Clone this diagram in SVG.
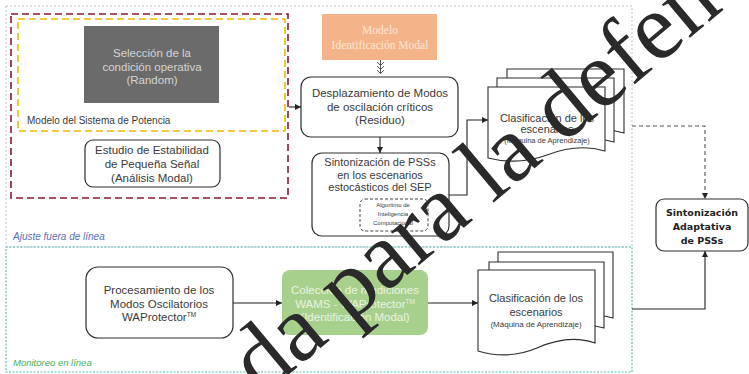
<svg xmlns="http://www.w3.org/2000/svg" width="749" height="374" viewBox="0 0 749 374">
<style>
.t{font-family:"Liberation Sans",Arial,sans-serif;font-size:11.5px;fill:#3a3a3a;text-anchor:middle}
.s{font-size:8px}
.xs{font-size:6px}
.box{fill:#fff;stroke:#2e2e2e;stroke-width:1.2}
.doc{fill:#fff;stroke:#2e2e2e;stroke-width:1.1}
.cn{fill:none;stroke:#222;stroke-width:1.1}
.lbl{font-family:"Liberation Sans",Arial,sans-serif;font-style:italic;font-size:10px}
.b{font-family:"DejaVu Sans",Verdana,sans-serif;font-weight:bold;font-size:9.5px;fill:#222;text-anchor:middle}
</style>
<defs>
<marker id="ah" markerWidth="6" markerHeight="6" refX="6" refY="3" orient="auto" markerUnits="userSpaceOnUse">
<path d="M0,0 L6,3 L0,6 z" fill="#222"/>
</marker>
</defs>
<rect width="749" height="374" fill="#fff"/>

<g id="containers">
<rect x="6" y="6" width="626" height="241" fill="none" stroke="#b9c3d3" stroke-width="1" stroke-dasharray="2,2"/>
<text class="lbl" x="13" y="240" fill="#5a6fb8">Ajuste fuera de línea</text>
<rect x="6" y="247" width="626" height="125" fill="none" stroke="#5dbdb0" stroke-width="1.2" stroke-dasharray="2,1.5"/>
<text class="lbl" x="13" y="366" fill="#3fae5a" style="font-size:9.5px">Monitoreo en línea</text>
<rect x="11" y="14" width="277" height="184" fill="none" stroke="#8b1a2e" stroke-width="1.6" stroke-dasharray="7,4"/>
<rect x="18" y="19" width="267" height="112" fill="none" stroke="#f2b705" stroke-width="1.6" stroke-dasharray="7,4"/>
<text class="t" x="27" y="124" style="text-anchor:start;font-size:10px">Modelo del Sistema de Potencia</text>
</g>

<g id="seleccion">
<rect x="84" y="26" width="135" height="77" fill="#6b6b6b"/>
<text class="t" x="152" y="57" style="fill:#d4d4d4">Selección de la</text>
<text class="t" x="152" y="70.5" style="fill:#d4d4d4">condición operativa</text>
<text class="t" x="152" y="84" style="fill:#d4d4d4">(Random)</text>
</g>

<g id="estudio">
<rect class="box" x="85" y="140" width="135" height="47" rx="8"/>
<text class="t" x="152" y="154">Estudio de Estabilidad</text>
<text class="t" x="152" y="168">de Pequeña Señal</text>
<text class="t" x="152" y="182">(Análisis Modal)</text>
</g>

<g id="modelo-ident">
<rect x="322" y="14" width="115" height="46" fill="#f5b38a"/>
<text class="t" x="380" y="34" style="font-family:'Liberation Serif','Times New Roman',serif;fill:#fde6d6">Modelo</text>
<text class="t" x="380" y="49" style="font-family:'Liberation Serif','Times New Roman',serif;fill:#fde6d6">Identificación Modal</text>
</g>

<g id="desplazamiento">
<rect class="box" x="301" y="77" width="157" height="60" rx="10"/>
<text class="t" x="380" y="97">Desplazamiento de Modos</text>
<text class="t" x="380" y="111">de oscilación críticos</text>
<text class="t" x="380" y="124">(Residuo)</text>
</g>

<g id="sintonizacion">
<rect class="box" x="312" y="153" width="137" height="83" rx="10"/>
<text class="t" x="380" y="166" style="font-size:11px">Sintonización de PSSs</text>
<text class="t" x="380" y="178.5" style="font-size:11px">en los escenarios</text>
<text class="t" x="380" y="191" style="font-size:11px">estocásticos del SEP</text>
</g>

<g id="algoritmo">
<rect x="360" y="199" width="68" height="32" rx="5" fill="#fff" stroke="#444" stroke-width="1" stroke-dasharray="3,2"/>
<text class="t xs" x="393" y="207">Algoritmo de</text>
<text class="t xs" x="393" y="216">Inteligencia</text>
<text class="t xs" x="393" y="225">Computacional</text>
</g>

<g id="clasificacion-1">
<path class="doc" d="M507,69 H624 V133 C604,127 584,130 566,137 C547,144 527,145 507,140 Z"/>
<path class="doc" d="M497,78 H614 V142 C594,136 574,139 556,146 C537,153 517,154 497,149 Z"/>
<path class="doc" d="M488,87 H605 V151 C585,145 565,148 547,155 C528,162 508,163 488,158 Z"/>
<text class="t" x="547" y="122" style="font-size:11px">Clasificación de los</text>
<text class="t" x="547" y="133" style="font-size:11px">escenarios</text>
<text class="t s" x="547" y="143" style="font-size:7.5px">(Máquina de Aprendizaje)</text>
</g>

<g id="adaptativa">
<rect class="box" x="656" y="199" width="92" height="52" rx="8"/>
<text class="b" x="702" y="216">Sintonización</text>
<text class="b" x="702" y="230">Adaptativa</text>
<text class="b" x="702" y="243.5">de PSSs</text>
</g>

<g id="procesamiento">
<rect class="box" x="86" y="267" width="147" height="71" rx="12"/>
<text class="t" x="159" y="294">Procesamiento de los</text>
<text class="t" x="159" y="307.5">Modos Oscilatorios</text>
<text class="t" x="159" y="321">WAProtector<tspan style="font-size:6.5px" dy="-4">TM</tspan></text>
</g>

<g id="coleccion">
<rect x="282" y="270" width="146" height="65" rx="8" fill="#a8d08d"/>
<text class="t" x="355" y="294" style="fill:#e8f3e0">Colección de mediciones</text>
<text class="t" x="355" y="307.5" style="fill:#e8f3e0">WAMS - WAProtector<tspan style="font-size:6.5px" dy="-4">TM</tspan></text>
<text class="t" x="355" y="321" style="fill:#e8f3e0">(Identificación Modal)</text>
</g>

<g id="clasificacion-2">
<path class="doc" d="M498,252 H613 V318 C593,312 573,315 555,322 C536,329 517,330 498,325 Z"/>
<path class="doc" d="M489,262 H604 V328 C584,322 564,325 546,332 C527,339 508,340 489,335 Z"/>
<path class="doc" d="M478,270 H595 V343 C575,336 555,340 537,348 C518,356 498,357 478,351 Z"/>
<text class="t" x="536" y="302" style="font-size:11px">Clasificación de los</text>
<text class="t" x="536" y="316" style="font-size:11px">escenarios</text>
<text class="t s" x="536" y="327">(Máquina de Aprendizaje)</text>
</g>

<g id="connectors">
<path class="cn" d="M289,107 H301" marker-end="url(#ah)"/>
<path class="cn" d="M380,137 V153" marker-end="url(#ah)"/>
<path class="cn" d="M449,195 H467 V120 H488" marker-end="url(#ah)"/>
<path class="cn" d="M233,303 H282" marker-end="url(#ah)"/>
<path class="cn" d="M428,303 H478" marker-end="url(#ah)"/>
<path class="cn" d="M632,126 H705 V199" stroke-dasharray="4,3" style="stroke:#555" marker-end="url(#ah)"/>
<path class="cn" d="M632,309 H705 V251" marker-end="url(#ah)"/>
<path d="M380.5,60 V74 M377,62 L380.5,65.5 L384,62 M377,66 L380.5,69.5 L384,66 M377,70 L380.5,73.5 L384,70" fill="none" stroke="#555" stroke-width="1"/>
</g>

<g id="watermark">
<text transform="translate(262,397) rotate(-40)" font-family="'Liberation Serif','Times New Roman',serif" font-size="95" fill="#2a2a2a">da para la defen</text>
</g>
</svg>
